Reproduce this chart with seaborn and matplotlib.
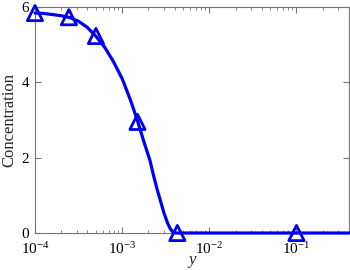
import matplotlib
matplotlib.use("Agg")
import matplotlib.pyplot as plt
import seaborn as sns
import pandas as pd

# sampled points (markers)
y_points = [1e-4, 2.45e-4, 5e-4, 1.5e-3, 4.3e-3, 1e-1]
conc_points = [5.84, 5.73, 5.23, 2.95, 0.0, 0.0]

# smooth curve
y_curve = [1e-4, 1.259e-4, 1.585e-4, 1.995e-4, 2.512e-4, 3.162e-4, 3.981e-4,
           5.012e-4, 6.31e-4, 7.943e-4, 1e-3, 1.259e-3, 1.514e-3, 1.778e-3,
           2.089e-3, 2.239e-3, 2.512e-3, 2.754e-3, 3.02e-3, 3.311e-3,
           3.548e-3, 3.802e-3, 4.169e-3, 5e-3, 1e-2, 1e-1, 0.4]
conc_curve = [5.84, 5.83, 5.8, 5.77, 5.72, 5.62, 5.46,
              5.22, 4.93, 4.55, 4.1, 3.5, 2.95, 2.42,
              1.92, 1.62, 1.17, 0.85, 0.53, 0.27,
              0.12, 0.03, 0.0, 0.0, 0.0, 0.0, 0.0]

sns.set_style("ticks")
plt.rcParams['font.family'] = ['Liberation Serif', 'DejaVu Serif']
plt.rcParams['mathtext.fontset'] = 'custom'
plt.rcParams['mathtext.rm'] = 'Liberation Serif'
plt.rcParams['mathtext.it'] = 'Liberation Serif:italic'

fig = plt.figure(figsize=(3.5, 2.7), dpi=100)
ax = fig.add_axes([0.1, 0.137, 0.897, 0.837])

curve = pd.DataFrame({'y': y_curve, 'c': conc_curve})
pts = pd.DataFrame({'y': y_points, 'c': conc_points})

sns.lineplot(data=curve, x='y', y='c', color='#0000ee', linewidth=2.3,
             ax=ax, clip_on=False, zorder=3)
sns.scatterplot(data=pts, x='y', y='c', marker='^', s=120, facecolor='none',
                edgecolor='#0000ee', linewidth=2, ax=ax, clip_on=False, zorder=4)

ax.set_xscale('log')
ax.set_xlim(1e-4, 0.4)
ax.set_ylim(0, 6)
ax.set_yticks([0, 2, 4, 6])
ax.set_xticks([1e-4, 1e-3, 1e-2, 1e-1])

for s in ax.spines.values():
    s.set_color('#777777')
    s.set_linewidth(0.8)
ax.tick_params(which='both', direction='in', top=True, right=True,
               colors='#777777', labelcolor='black', labelsize=11)
ax.tick_params(which='major', length=4)
ax.tick_params(which='minor', length=2)
ax.tick_params(axis='x', pad=5.5)
ax.tick_params(axis='y', pad=4)

ax.set_xlabel('y', fontsize=12, fontstyle='italic')
ax.xaxis.set_label_coords(0.5, -0.085)
ax.xaxis.label.set_va('top')
ax.set_ylabel('Concentration', fontsize=12, labelpad=3)

fig.savefig('out.png', dpi=100)
